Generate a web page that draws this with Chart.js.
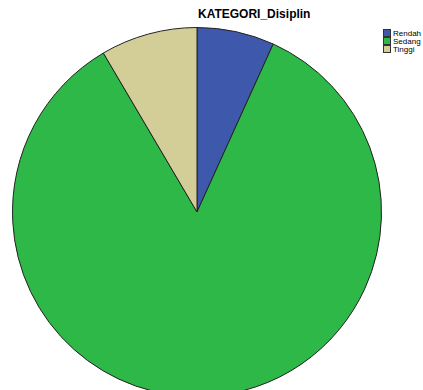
<!DOCTYPE html>
<html><head><meta charset="utf-8">
<script src="https://cdn.jsdelivr.net/npm/chart.js@4"></script>
<style>
html,body{margin:0;padding:0;width:423px;height:390px;overflow:hidden;background:#fff;font-family:"Liberation Sans",Arial,sans-serif;}
#title{position:absolute;left:198px;top:7px;font-size:12px;font-weight:bold;color:#000;white-space:nowrap;}
#wrap{position:absolute;left:12px;top:27px;width:370px;height:370px;}
#legend{position:absolute;left:383px;top:29px;font-size:8px;color:#000;}
.item{display:flex;align-items:center;height:8px;margin-bottom:0px;white-space:nowrap;}
.sw{width:6px;height:6px;border:1px solid #333;margin-right:2px;box-sizing:content-box;}
</style></head>
<body>
<div id="title"></div>
<div id="wrap"><canvas id="c" width="370" height="370"></canvas></div>
<div id="legend"></div>
<script>
const chartTitle = "KATEGORI_Disiplin";
const categories = ["Rendah", "Sedang", "Tinggi"];
const counts = [4, 50, 5];
const colors = ["#3e58ac", "#2eb848", "#d3ce97"];

document.getElementById('title').textContent = chartTitle;
const lg = document.getElementById('legend');
categories.forEach((c, i) => {
  const d = document.createElement('div'); d.className = 'item';
  const s = document.createElement('span'); s.className = 'sw'; s.style.background = colors[i];
  const t = document.createElement('span'); t.textContent = c;
  d.appendChild(s); d.appendChild(t); lg.appendChild(d);
});

new Chart(document.getElementById('c'), {
  type: 'pie',
  data: { labels: categories, datasets: [{ data: counts, backgroundColor: colors, borderColor: '#222', borderWidth: 1 }] },
  options: {
    responsive: false, animation: false,
    layout: { padding: 0 },
    plugins: { legend: { display: false }, title: { display: false }, tooltip: { enabled: false } }
  }
});
</script>
</body></html>
